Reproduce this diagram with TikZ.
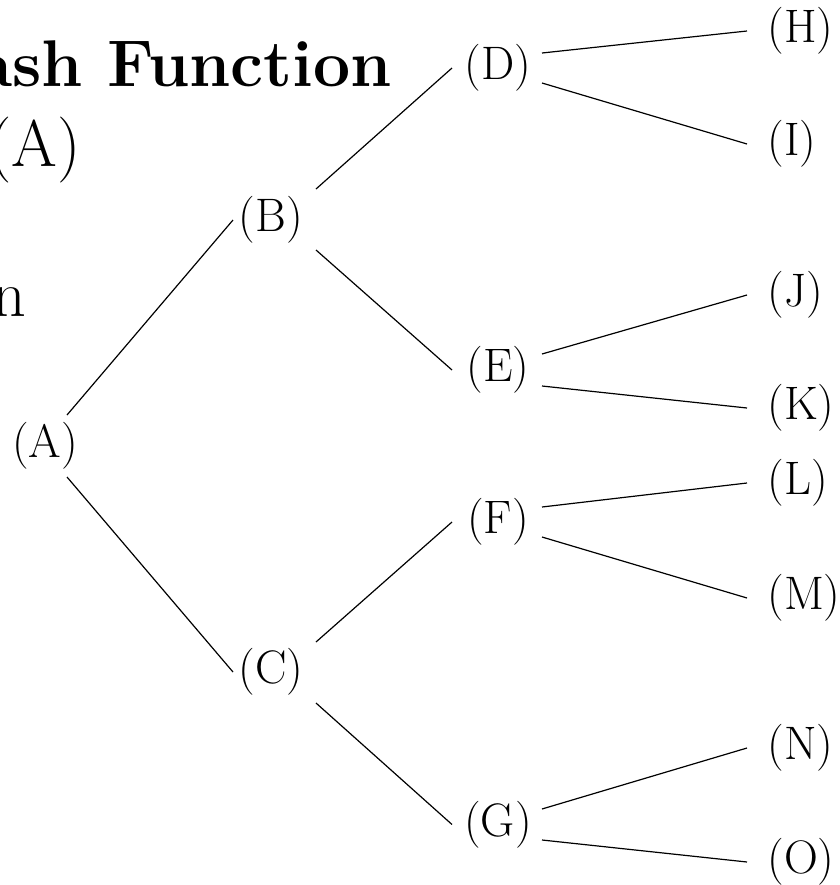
\documentclass[tikz,border=0pt]{standalone}
\usepackage{fontspec}
\begin{document}
\begin{tikzpicture}[x=0.5pt,y=-0.5pt,
  lbl/.style={inner sep=0pt, font=\fontsize{23.5}{28}\selectfont},
  leaf/.style={lbl, anchor=west},
  big/.style={inner sep=0pt, font=\fontsize{33}{40}\selectfont},
  edge/.style={line width=0.6pt}]
\useasboundingbox (0,0) rectangle (840,885);
\clip (0,0) rectangle (840,885);
% cropped text at left
\node[big, anchor=base east, font=\fontsize{33}{40}\selectfont\bfseries] (title) at (392,86) {Hash Function};
\node[big, anchor=base east] (ha) at (81,166) {(A)};
\node[big, anchor=base east] (nn) at (27,316) {n};
% tree nodes
\node[lbl] (A) at (45,446) {(A)};
\node[lbl] (B) at (271,220) {(B)};
\node[lbl] (C) at (271,672) {(C)};
\node[lbl] (D) at (498,68) {(D)};
\node[lbl] (E) at (498,370) {(E)};
\node[lbl] (F) at (498,522) {(F)};
\node[lbl] (G) at (498,824.5) {(G)};
\node[leaf] (H) at (767,31) {(H)};
\node[leaf] (I) at (767,144) {(I)};
\node[leaf] (J) at (767,295) {(J)};
\node[leaf] (K) at (767,408) {(K)};
\node[leaf] (L) at (767,483) {(L)};
\node[leaf] (M) at (767,598) {(M)};
\node[leaf] (N) at (767,748) {(N)};
\node[leaf] (O) at (767,862) {(O)};
% edges
\draw[edge] ([shift={(22,-31)}]A.center) -- ([shift={(-38,0)}]B.center);
\draw[edge] ([shift={(22,31)}]A.center) -- ([shift={(-38,0)}]C.center);
\draw[edge] ([shift={(45,-31)}]B.center) -- ([shift={(-46,0)}]D.center);
\draw[edge] ([shift={(45,30)}]B.center) -- ([shift={(-46,0)}]E.center);
\draw[edge] ([shift={(45,-30)}]C.center) -- ([shift={(-46,0)}]F.center);
\draw[edge] ([shift={(45,31)}]C.center) -- ([shift={(-46,0)}]G.center);
\draw[edge] ([shift={(44,-15)}]D.center) -- ([shift={(-20,0)}]H.west);
\draw[edge] ([shift={(44,15)}]D.center) -- ([shift={(-20,0)}]I.west);
\draw[edge] ([shift={(44,-16)}]E.center) -- ([shift={(-20,0)}]J.west);
\draw[edge] ([shift={(44,16)}]E.center) -- ([shift={(-20,0)}]K.west);
\draw[edge] ([shift={(44,-15)}]F.center) -- ([shift={(-20,0)}]L.west);
\draw[edge] ([shift={(44,15)}]F.center) -- ([shift={(-20,0)}]M.west);
\draw[edge] ([shift={(44,-15.5)}]G.center) -- ([shift={(-20,0)}]N.west);
\draw[edge] ([shift={(44,15.5)}]G.center) -- ([shift={(-20,0)}]O.west);
\end{tikzpicture}
\end{document}
